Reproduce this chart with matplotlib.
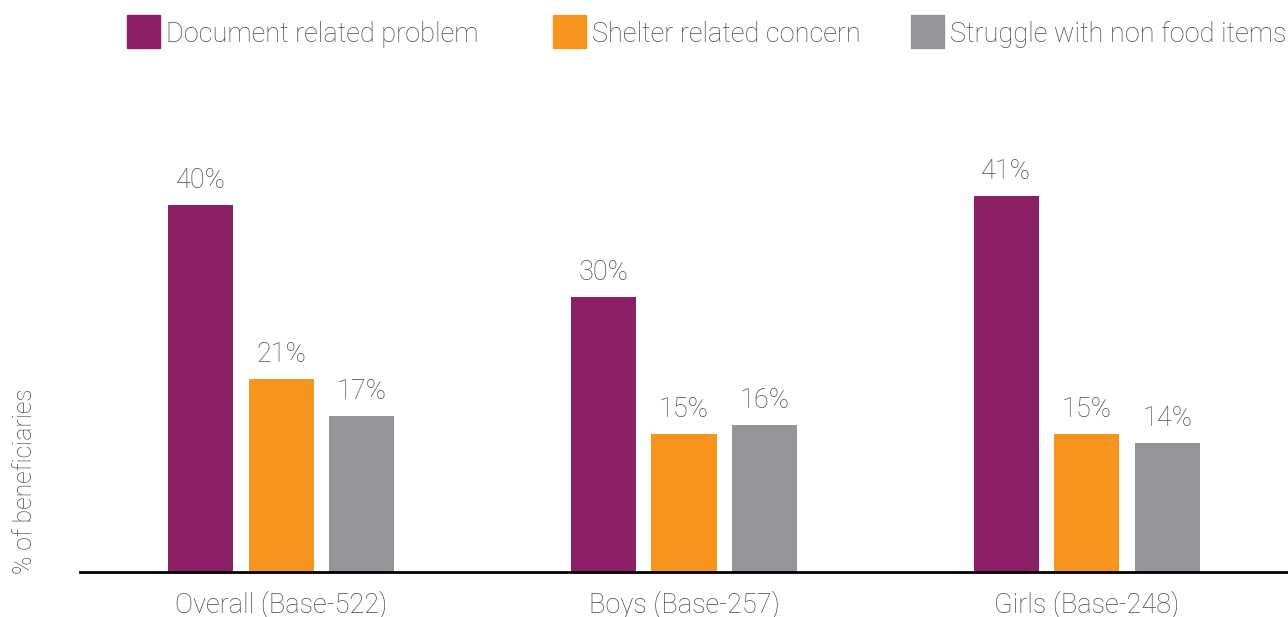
import matplotlib.pyplot as plt
import numpy as np
from matplotlib.patches import Rectangle

plt.rcParams['font.family'] = ['Roboto', 'DejaVu Sans']
plt.rcParams['font.weight'] = 'light'

groups = ['Overall (Base-522)', 'Boys (Base-257)', 'Girls (Base-248)']
series = ['Document related problem', 'Shelter related concern', 'Struggle with non food items']
document = [40, 30, 41]
shelter = [21, 15, 15]
non_food = [17, 16, 14]
colors = ['#8B2067', '#F7941D', '#939598']
txt = '#4a4a4a'
fs = 19.5
W, H = 1288, 617

fig = plt.figure(figsize=(12.88, 6.17), dpi=100)
ax = fig.add_axes([80 / W, 45 / H, 1208 / W, 492 / H])

x = np.arange(len(groups))
step = 0.2
width = 0.1615
for i, (vals, c) in enumerate(zip([document, shelter, non_food], colors)):
    pos = x + (i - 1) * step
    ax.bar(pos, vals, width=width, color=c)
    for p, v in zip(pos, vals):
        ax.text(p, v + 1.2, f'{v}%', ha='center', va='bottom', fontsize=fs,
                color=txt, fontweight='light')

ax.set_xlim(-0.5, 2.5)
ax.set_ylim(0, 53.6)
for s in ['top', 'right', 'left']:
    ax.spines[s].set_visible(False)
ax.spines['bottom'].set_linewidth(2)
ax.spines['bottom'].set_color('black')
ax.set_yticks([])
ax.set_xticks(x)
ax.set_xticklabels(groups, fontsize=fs, color=txt, fontweight='light')
ax.tick_params(axis='x', length=0, pad=13)

fig.text(25 / W, 1 - 481 / H, '% of beneficiaries', rotation=90, ha='center',
         va='center', fontsize=17.8, color=txt, fontweight='light')

# legend drawn by hand so the uneven spacing of the original is kept
leg_x = [127, 553, 911]
for lx, name, c in zip(leg_x, series, colors):
    fig.patches.append(Rectangle((lx / W, 1 - 48 / H), 33 / W, 33 / H,
                                 transform=fig.transFigure, color=c))
    fig.text((lx + 39) / W, 1 - 34 / H, name, ha='left', va='center',
             fontsize=fs, color=txt, fontweight='light')

fig.savefig('out.png', dpi=100)
